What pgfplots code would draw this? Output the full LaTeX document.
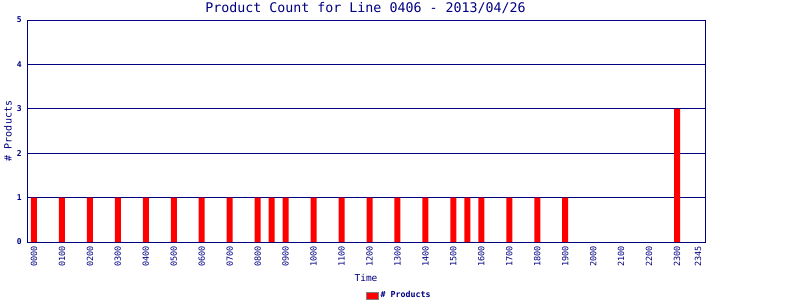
\documentclass[border=0pt]{standalone}
\usepackage{fontspec}
\setmainfont{DejaVu Sans Mono}
\usepackage{pgfplots}
\pgfplotsset{compat=1.18}
\definecolor{navyc}{RGB}{0,0,128}
\begin{document}
\begin{tikzpicture}
\path[use as bounding box] (0pt,0pt) rectangle (800pt,300pt);
\begin{axis}[
  at={(27pt,58pt)}, anchor=south west,
  width=678pt, height=222pt, scale only axis,
  xmin=-0.25, xmax=24, ymin=0, ymax=5,
  /pgf/number format/assume math mode=true,
  axis line style={navyc, line width=0.9pt},
  ymajorgrids, grid style={navyc, line width=0.9pt},
  major tick length=0pt,
  ytick={0,1,2,3,4,5},
  yticklabel style={font=\fontsize{8}{9}\selectfont\bfseries, text=navyc, inner sep=0pt, xshift=-5pt},
  xtick={0,1,2,3,4,5,6,7,8,9,10,11,12,13,14,15,16,17,18,19,20,21,22,23,23.75},
  xticklabels={0000,0100,0200,0300,0400,0500,0600,0700,0800,0900,1000,1100,1200,1300,1400,1500,1600,1700,1800,1900,2000,2100,2200,2300,2345},
  xticklabel style={font=\fontsize{8.5}{9}\selectfont, text=navyc, rotate=90, anchor=east, inner sep=0pt, yshift=0pt, xshift=-4pt},
  xlabel={Time},
  xlabel style={at={(axis description cs:0.5,-0.162)}, anchor=center, font=\fontsize{9.5}{10}\selectfont, text=navyc},
  ylabel={\# Products},
  ylabel style={at={(axis description cs:-0.028,0.5)}, anchor=center, rotate=0, font=\fontsize{10}{11}\selectfont, text=navyc},
  legend style={at={(axis description cs:0.549,-0.241)}, anchor=center, draw=none, fill=none, font=\fontsize{8.3}{9}\selectfont\bfseries, text=navyc, inner sep=0pt},
  legend image code/.code={\draw[fill=red, draw=gray, line width=0.8pt] (0pt,-3.5pt) rectangle (12pt,3.5pt);},
]
\addplot[ybar, bar width=6pt, fill=red, draw=none] coordinates {
(0,1) (1,1) (2,1) (3,1) (4,1) (5,1) (6,1) (7,1) (8,1) (8.5,1) (9,1) (10,1) (11,1) (12,1) (13,1) (14,1) (15,1) (15.5,1) (16,1) (17,1) (18,1) (19,1) (23,3)
};
\addlegendentry{\# Products}
\end{axis}
\node[anchor=base, inner sep=0pt, font=\fontsize{13.3}{14}\selectfont, text=navyc] at (365.5pt,287pt) {Product Count for Line 0406 - 2013/04/26};
\end{tikzpicture}
\end{document}
